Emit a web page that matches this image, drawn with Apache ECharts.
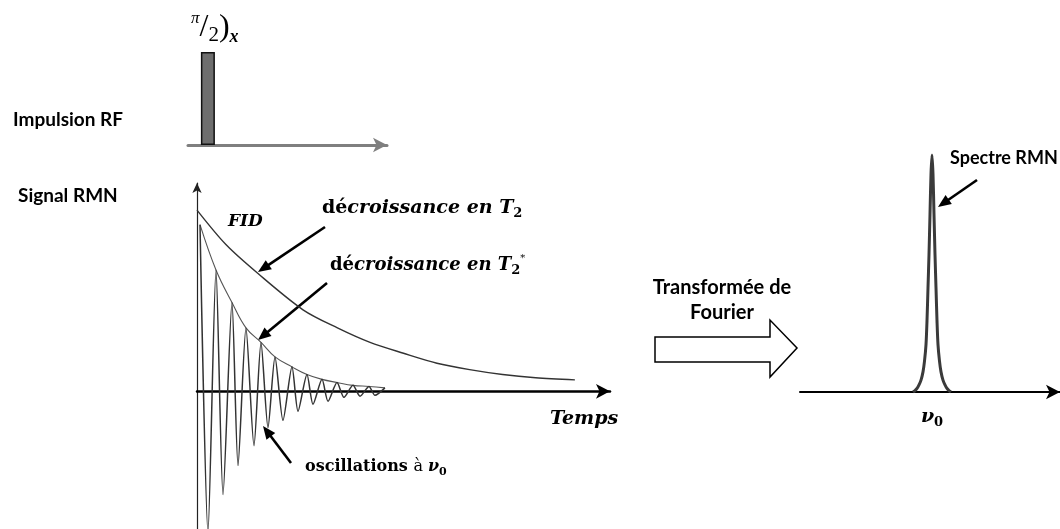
<!DOCTYPE html>
<html><head><meta charset="utf-8">
<script src="https://cdn.jsdelivr.net/npm/echarts@6/dist/echarts.min.js"></script>
<style>html,body{margin:0;padding:0;background:#fff}#c{width:1060px;height:529px}</style>
</head><body><div id="c"></div>
<script>
// ---- data (arbitrary units) ----
const rfPulseTime = [10];
const rfPulseAmp = [1];

const t2Time = [0, 7, 14.77, 25.67, 34, 41.9, 50, 58.1, 66, 74, 82, 91.5];
const t2Amp  = [1.0, 0.81, 0.65, 0.45, 0.35, 0.27, 0.21, 0.155, 0.12, 0.093, 0.075, 0.063];

const t2StarTime = [0.73, 4.6, 8.47, 11.86, 15.5, 18.89, 23.0, 26.63, 30.27, 33.9, 37.77, 41.65, 45.5];
const t2StarAmp  = [0.92, 0.67, 0.49, 0.35, 0.27, 0.19, 0.135, 0.093, 0.066, 0.049, 0.033, 0.027, 0.019];

const fidTime = [0.73, 2.66, 4.6, 6.3, 8.47, 9.93, 11.86, 13.8, 15.5, 17.19, 18.89, 20.82, 23.0, 24.46,
                 26.63, 28.09, 30.27, 31.72, 33.9, 35.59, 37.77, 39.47, 41.65, 43.1, 45.5];
const fidAmp  = [0.92, -0.78, 0.67, -0.57, 0.49, -0.41, 0.35, -0.3, 0.27, -0.2, 0.19, -0.16, 0.135, -0.11,
                 0.093, -0.071, 0.066, -0.055, 0.049, -0.033, 0.033, -0.027, 0.027, -0.022, 0.019];

const spectrumFreq = [-1.9, -1.7, -1.5, -1.3, -1.1, -0.9, -0.75, -0.6, -0.5, -0.4, -0.3, -0.2, -0.1, 0,
                      0.1, 0.2, 0.3, 0.4, 0.5, 0.6, 0.75, 0.9, 1.1, 1.3, 1.5, 1.7, 1.9];
const spectrumAmp  = [0, 0.006, 0.015, 0.03, 0.05, 0.085, 0.13, 0.2, 0.3, 0.44, 0.58, 0.75, 0.92, 1.0,
                      0.92, 0.75, 0.58, 0.44, 0.3, 0.2, 0.13, 0.085, 0.05, 0.03, 0.015, 0.006, 0];

const labels = {
  rf: 'Impulsion RF', signal: 'Signal RMN', tf1: 'Transformée de', tf2: 'Fourier',
  spectre: 'Spectre RMN', fid: 'FID', temps: 'Temps'
};

// ---- helpers ----
function pairs(xs, ys) { return xs.map((x, i) => [x, ys[i]]); }
const SANS = 'Lato';
const SERIF = '"DejaVu Serif"';
function hidden(o) {
  return Object.assign({ type: 'value', axisLine: { show: false }, axisTick: { show: false },
    axisLabel: { show: false }, splitLine: { show: false } }, o);
}
function arrow(x1, y1, x2, y2) {
  const a = Math.atan2(y2 - y1, x2 - x1), L = 13, W = 5.5;
  const bx = x2 - L * Math.cos(a), by = y2 - L * Math.sin(a);
  const px = -Math.sin(a) * W, py = Math.cos(a) * W;
  return [
    { type: 'line', shape: { x1: x1, y1: y1, x2: bx + Math.cos(a) * 2, y2: by + Math.sin(a) * 2 }, style: { stroke: '#000', lineWidth: 2.6 } },
    { type: 'polygon', shape: { points: [[x2, y2], [bx + px, by + py], [bx - px, by - py]] }, style: { fill: '#000' } }
  ];
}
function sansText(t, x, y, align, size) {
  return { type: 'text', x: x, y: y, style: { text: t, fontFamily: SANS, fontWeight: 'bold', fontSize: size || 19,
    fill: '#000', align: align || 'left', verticalAlign: 'middle', textAlign: align || 'left', textVerticalAlign: 'middle' } };
}
function richText(t, x, y, rich, align) {
  return { type: 'text', x: x, y: y, style: { text: t, rich: rich, fill: '#000',
    align: align || 'left', verticalAlign: 'middle', textAlign: align || 'left', textVerticalAlign: 'middle' } };
}
const mathRich = (size) => ({
  u: { fontFamily: SERIF, fontSize: size, fontWeight: 'bold', lineHeight: size + 6, fill: '#000' },
  i: { fontFamily: SERIF, fontSize: size, fontWeight: 'bold', fontStyle: 'italic', lineHeight: size + 6, fill: '#000' },
  n: { fontFamily: SERIF, fontSize: size, fontWeight: 'normal', lineHeight: size + 6, fill: '#000' },
  s: { fontFamily: SERIF, fontSize: Math.round(size * 0.7), fontWeight: 'bold', lineHeight: Math.round(size * 0.7), verticalAlign: 'bottom', fill: '#000' },
  p: { fontFamily: SERIF, fontSize: Math.round(size * 0.55), fontWeight: 'normal', lineHeight: Math.round(size * 0.55), verticalAlign: 'top', fill: '#000' }
});

const graphics = [].concat(
  sansText(labels.rf, 13, 120),
  sansText(labels.signal, 18, 196),
  sansText(labels.tf1, 722, 288, 'center', 20),
  sansText(labels.tf2, 722, 313, 'center', 20),
  sansText(labels.spectre, 950, 158, 'left', 18),
  richText('{i|' + labels.fid + '}', 228, 222, mathRich(17)),
  richText('{i|' + labels.temps + '}', 550, 419, mathRich(19)),
  richText('{u|dé}{i|croissance en T}{s|2}', 322, 208, mathRich(19)),
  richText('{u|dé}{i|croissance en T}{s|2}{p|*}', 330, 265, mathRich(18)),
  richText('{u|oscillations }{n|à }{i|ν}{s|0}', 305, 467, mathRich(16)),
  richText('{i|ν}{s|0}', 932, 417, mathRich(19), 'center'),
  richText('{pi|π}{sl|/}{two|2}{pa|)}{x|x}', 191, 28, {
    pi: { fontFamily: '"Liberation Serif"', fontSize: 17, fontStyle: 'italic', lineHeight: 16, verticalAlign: 'top' },
    sl: { fontFamily: '"Liberation Serif"', fontSize: 32, lineHeight: 36 },
    two: { fontFamily: '"Liberation Serif"', fontSize: 21, lineHeight: 22, verticalAlign: 'bottom' },
    pa: { fontFamily: '"Liberation Serif"', fontSize: 32, lineHeight: 36 },
    x: { fontFamily: '"Liberation Serif"', fontSize: 18, fontStyle: 'italic', fontWeight: 'bold', lineHeight: 16, verticalAlign: 'bottom' }
  }),
  arrow(325, 227, 258, 272),
  arrow(327, 283, 258, 340),
  arrow(291, 463, 263, 426),
  arrow(977, 180, 938, 207),
  [{ type: 'polygon', shape: { points: [[655, 337], [770, 337], [770, 320], [797, 348], [770, 377], [770, 362], [655, 362]] },
     style: { fill: '#fff', stroke: '#000', lineWidth: 1.5 } }]
);

const chart = echarts.init(document.getElementById('c'), null, { renderer: 'canvas' });
chart.setOption({
  animation: false,
  backgroundColor: '#fff',
  grid: [
    { left: 188, width: 199, top: 52, height: 93 },
    { left: 197, width: 413, top: 183, height: 346 },
    { left: 800, width: 260, top: 155, height: 237 }
  ],
  xAxis: [
    hidden({ gridIndex: 0, min: 0, max: 100, axisLine: { show: true, symbol: ['none', 'arrow'], symbolSize: [11, 14],
      lineStyle: { color: '#7f7f7f', width: 3 } } }),
    hidden({ gridIndex: 1, min: 0, max: 100, axisLine: { show: true, onZero: true, symbol: ['none', 'arrow'], symbolSize: [11, 14],
      lineStyle: { color: '#000', width: 2.5 } } }),
    hidden({ gridIndex: 2, min: -13.2, max: 12.8, axisLine: { show: true, symbol: ['none', 'arrow'], symbolSize: [11, 14],
      lineStyle: { color: '#000', width: 2 } } })
  ],
  yAxis: [
    hidden({ gridIndex: 0, min: 0, max: 1 }),
    hidden({ gridIndex: 1, min: -0.76, max: 1.15, axisLine: { show: true, onZero: false, symbol: ['none', 'arrow'], symbolSize: [7, 10],
      lineStyle: { color: '#222', width: 1.2 } } }),
    hidden({ gridIndex: 2, min: 0, max: 1 })
  ],
  graphic: graphics,
  series: [
    { type: 'bar', xAxisIndex: 0, yAxisIndex: 0, data: pairs(rfPulseTime, rfPulseAmp), barWidth: 14,
      itemStyle: { color: '#6e6e6e', borderColor: '#111', borderWidth: 1.5 } },
    { type: 'line', xAxisIndex: 1, yAxisIndex: 1, data: pairs(t2Time, t2Amp), symbol: 'none', smooth: 0.3,
      lineStyle: { color: '#333', width: 1.4 } },
    { type: 'line', xAxisIndex: 1, yAxisIndex: 1, data: pairs(t2StarTime, t2StarAmp), symbol: 'none', smooth: 0.4,
      lineStyle: { color: '#555', width: 1.1 } },
    { type: 'line', xAxisIndex: 1, yAxisIndex: 1, data: pairs(fidTime, fidAmp), symbol: 'none', smooth: 0.25,
      lineStyle: { color: '#333', width: 1.5 } },
    { type: 'line', xAxisIndex: 2, yAxisIndex: 2, data: pairs(spectrumFreq, spectrumAmp), symbol: 'none', smooth: 0.3,
      lineStyle: { color: '#3a3a3a', width: 3 } }
  ]
});
</script></body></html>
